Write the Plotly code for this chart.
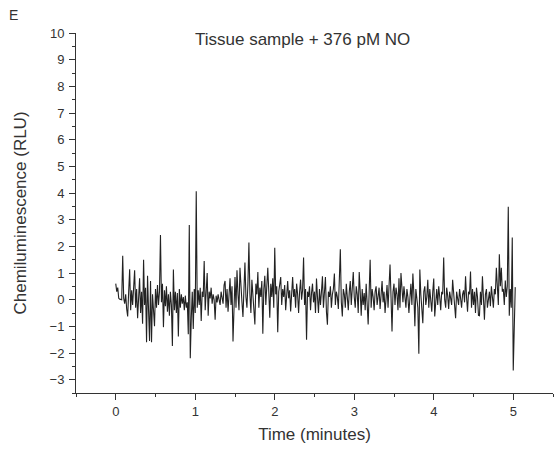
import plotly.graph_objects as go

# Sampling interval of the recording (minutes)
sample_step = 0.0125

# Chemiluminescence signal (RLU), one row per 0.25 min
signal = [
    0.60, 0.30, 0.45, 0.05, 0.02, 0.00, 0.00, 1.65, 0.05, -0.15, 0.20, -0.35, -0.63, 0.30, 1.14, -0.40, 0.35, -0.20, 0.50, 1.10,
    -0.30, 0.40, -0.70, 0.25, 0.80, -0.50, 0.30, -0.90, 1.50, -0.20, 0.45, -1.60, 0.90, -0.40, -1.55, 0.70, -1.60, 0.20, -0.60, -1.00,
    0.40, -0.30, 0.55, -0.20, 0.30, 2.42, -0.10, 0.60, -1.03, 0.35, -0.25, 0.50, -0.45, 0.20, -0.60, 0.30, -0.20, -1.74, 1.13, -0.40,
    0.30, -0.50, 0.25, -1.38, 0.40, -0.30, 0.20, -0.15, 0.10, -0.40, 0.15, -0.30, -0.10, -1.30, 2.80, -2.20, -0.70, 0.30, -1.10, 0.40,
    -0.50, 4.07, -0.30, 0.35, -0.20, 0.45, -0.80, 0.30, 0.10, 1.45, -0.40, 0.20, 1.00, -0.60, 0.30, 0.05, 0.45, -0.15, 0.20, 0.00,
    -0.75, 0.15, -0.10, 0.20, 0.05, -0.20, 0.30, 0.10, -0.15, 0.55, 0.70, -0.30, 0.40, -0.45, 0.25, 0.80, -0.20, 0.50, -1.57, 0.30,
    0.85, -0.30, 1.10, 0.20, -0.40, 1.20, 0.35, -0.10, -0.65, 0.50, 1.39, 0.10, -0.30, 0.60, 2.14, 0.20, -0.50, 0.75, 0.30, -0.20,
    -0.93, 0.60, 0.20, 1.04, -0.30, 0.45, 0.10, 0.70, -1.28, 0.40, 0.90, -0.20, 0.50, 1.20, 0.30, -0.68, 0.60, 0.10, 0.80, -0.30,
    1.95, 0.20, 0.50, -1.22, 0.30, 0.60, 0.85, -0.20, 0.40, 0.10, 0.55, -0.40, 0.30, 0.70, 0.05, 0.35, -0.44, 0.20, 0.85, 0.10,
    0.40, -0.30, 0.60, 0.20, -0.50, 0.30, 0.75, 0.00, 0.35, 1.58, -0.20, 0.40, -1.50, 0.30, 0.10, 0.50, -0.40, 0.25, 0.60, -0.10,
    0.30, -0.50, 0.79, 0.10, -0.50, 0.40, -0.20, 0.30, 0.88, -0.30, 0.20, 0.85, -0.45, -0.94, 0.30, 0.10, 0.50, -0.30, 0.20, 0.40,
    0.98, -0.20, 0.30, 0.10, -0.35, 0.50, 1.89, -0.10, -0.63, 0.40, 0.20, -0.30, 0.60, 0.10, -0.40, 0.30, 0.70, -0.20, 0.45, 1.04,
    0.10, -0.30, 0.50, 0.20, -0.50, 1.04, 0.30, -0.60, 0.40, -0.20, 0.25, -0.40, 0.60, -0.50, -0.93, 0.30, 1.50, -0.30, 0.40, 0.10,
    -0.40, 0.30, 0.50, -0.20, 0.10, 0.45, -0.35, 0.20, 0.70, -0.10, 0.30, -0.50, 0.15, 0.55, -0.30, 0.40, 1.32, 0.10, -1.19, 0.30,
    0.60, -0.20, 0.45, 0.20, -0.40, 0.80, -0.30, 1.00, 0.30, -0.10, 0.50, 0.20, -0.30, 0.40, 0.10, -0.50, 0.30, 0.60, -0.20, 0.98,
    0.20, -1.00, 0.40, 0.10, -0.30, -2.03, 1.13, 0.20, -0.40, -0.88, 0.30, 0.50, -0.20, 0.10, 0.75, -0.30, 0.40, 0.05, -0.45, 0.30,
    0.79, -0.63, 0.20, 0.40, -0.20, 0.50, 0.10, -0.40, 0.30, 0.20, 1.58, 0.00, -0.30, 0.45, 0.15, -0.35, 0.30, 0.10, -0.20, 0.75,
    0.20, -0.40, -0.70, 0.30, 0.10, -0.20, 0.40, 0.05, -0.30, 0.20, 0.35, -0.10, 0.88, 0.10, -0.45, 0.30, 0.20, 1.06, -0.30, 0.40,
    -0.20, 0.30, -0.50, 0.45, 0.10, -0.59, -0.60, 0.30, -0.20, 0.88, 0.10, -0.75, 0.20, 0.40, -0.30, 0.15, 0.30, -0.25, 0.50, 0.10,
    -0.30, 0.40, 0.20, 1.20, 0.30, -0.20, 1.70, 0.50, 1.20, 0.30, 0.40, -0.20, 0.72, 0.10, 0.50, 3.48, -0.60, 0.40, -0.30, 2.33,
    -2.66, -1.22, 0.47,
]
time = [round(i * sample_step, 4) for i in range(len(signal))]

title_text = "Tissue sample + 376 pM NO"
panel_label = "E"
x_title = "Time (minutes)"
y_title = "Chemiluminescence (RLU)"
x_ticks = [0, 1, 2, 3, 4, 5]
y_ticks = [-3, -2, -1, 0, 1, 2, 3, 4, 5, 6, 7, 8, 9, 10]

font_family = "Liberation Sans, Arial, sans-serif"
ink = "#333333"

fig = go.Figure(
    go.Scatter(
        x=time, y=signal, mode="lines",
        line=dict(color="#222222", width=1.1),
        hoverinfo="skip", showlegend=False,
    )
)

axis_common = dict(
    showline=True, linecolor=ink, linewidth=1,
    ticks="outside", ticklen=6, tickwidth=1, tickcolor=ink,
    showgrid=False, zeroline=False, mirror=False,
    tickfont=dict(family=font_family, size=13, color=ink),
)

fig.update_xaxes(
    range=[-0.5, 5.5], tickvals=x_ticks,
    minor=dict(ticks="outside", ticklen=3, dtick=0.5, tick0=0, tickcolor=ink),
    title=dict(text=x_title, font=dict(family=font_family, size=17, color=ink), standoff=10),
    **axis_common,
)
fig.update_yaxes(
    range=[-3.5, 10], tickvals=y_ticks, ticklabelstandoff=2,
    minor=dict(ticks="outside", ticklen=3, dtick=0.5, tick0=0, tickcolor=ink),
    title=dict(text=y_title, font=dict(family=font_family, size=17, color=ink), standoff=18),
    **axis_common,
)

fig.add_annotation(
    text=title_text, xref="paper", yref="paper", x=0.474, y=0.983,
    xanchor="center", yanchor="middle", showarrow=False,
    font=dict(family=font_family, size=17, color=ink),
)
fig.add_annotation(
    text=panel_label, xref="paper", yref="paper", x=-0.13, y=1.05,
    xanchor="center", yanchor="middle", showarrow=False,
    font=dict(family=font_family, size=14, color=ink),
)

fig.update_layout(
    width=558, height=455,
    margin=dict(l=76, r=5, t=33, b=62),
    plot_bgcolor="white", paper_bgcolor="white",
    font=dict(family=font_family, color=ink),
)

fig.write_html("out.html")
